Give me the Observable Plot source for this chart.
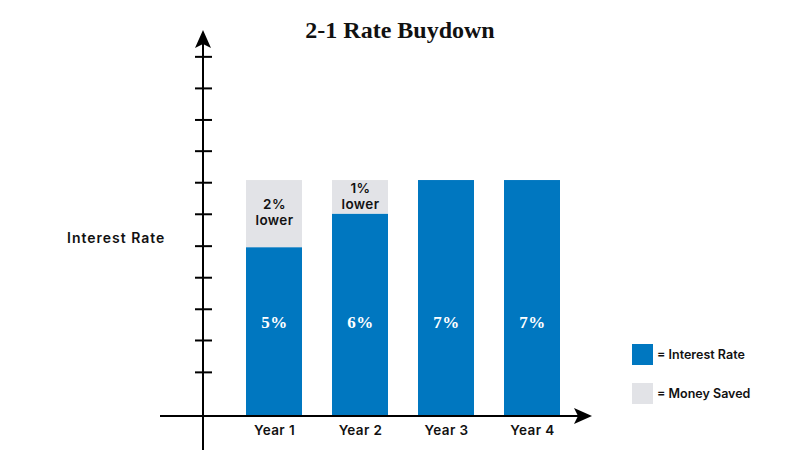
<!DOCTYPE html>
<html>
<head>
<meta charset="utf-8">
<script src="https://cdn.jsdelivr.net/npm/d3@7"></script>
<script src="https://cdn.jsdelivr.net/npm/@observablehq/plot@0.6"></script>
<style>
  html, body { margin: 0; padding: 0; background: #fff; }
  #wrap { position: relative; width: 800px; height: 450px; overflow: hidden; font-family: Inter, "Open Sans", sans-serif; }
  #title { position: absolute; left: 0; width: 800px; top: 17px; text-align: center;
           font-family: "Liberation Serif", "DejaVu Serif", serif; font-weight: bold; font-size: 24px; color: #111; }
  #ylabel { position: absolute; left: 67px; top: 229px; font-weight: 600; font-size: 14px; letter-spacing: 1px; color: #111; }
  .leg { position: absolute; left: 632px; display: flex; align-items: center; font-weight: 600; font-size: 12.5px; letter-spacing: 0px; color: #111; }
  .leg span.sw { display: inline-block; width: 21px; height: 21px; margin-right: 4px; }
  #chart svg text { letter-spacing: 0.4px; }
</style>
</head>
<body>
<div id="wrap">
  <div id="chart"></div>
  <div id="title">2-1 Rate Buydown</div>
  <div id="ylabel">Interest Rate</div>
  <div id="legend"></div>
</div>
<script>
// ---- data ----
const years = ["Year 1", "Year 2", "Year 3", "Year 4"];
const rates = [5, 6, 7, 7];          // interest rate (%)
const saved = [2, 1, 0, 0];          // buydown (money saved, % points)
const savedTop = ["2%", "1%", "", ""];
const savedBottom = ["lower", "lower", "", ""];
const yTickValues = [1.27, 2.22, 3.15, 4.09, 5.03, 5.98, 6.92, 7.86, 8.79, 9.73, 10.67];
const legendItems = ["= Interest Rate", "= Money Saved"];

const blue = "#0077c0";
const grey = "#e2e3e7";
const legendColors = [blue, grey];

const data = years.map((year, i) => ({year, rate: rates[i], saved: saved[i], top: savedTop[i], bottom: savedBottom[i]}));

// ---- layout ----
const W = 800, H = 450;
const axisX = 203;          // pixel x of vertical axis
const axisLeft = 160, axisRight = 592;

function axes(index, scales, values, dims) {
  const y0 = scales.y(0) + 1;
  const g = d3.create("svg:g");
  // horizontal axis
  g.append("line").attr("x1", axisLeft).attr("x2", axisRight - 10).attr("y1", y0).attr("y2", y0)
    .attr("stroke", "#000").attr("stroke-width", 2);
  g.append("path").attr("d", `M${axisRight},${y0} L${axisRight - 18},${y0 - 8} L${axisRight - 14},${y0} L${axisRight - 18},${y0 + 8} Z`)
    .attr("fill", "#000");
  // vertical axis
  const tipY = dims.marginTop;
  g.append("line").attr("x1", axisX).attr("x2", axisX).attr("y1", H).attr("y2", tipY + 10)
    .attr("stroke", "#000").attr("stroke-width", 2);
  g.append("path").attr("d", `M${axisX},${tipY} L${axisX - 8},${tipY + 18} L${axisX},${tipY + 14} L${axisX + 8},${tipY + 18} Z`)
    .attr("fill", "#000");
  // tick marks
  for (const t of yTickValues) {
    const yy = scales.y(t);
    g.append("line").attr("x1", axisX - 8).attr("x2", axisX + 9).attr("y1", yy).attr("y2", yy)
      .attr("stroke", "#000").attr("stroke-width", 2);
  }
  return g.node();
}

const sansText = {fill: "#111", fontSize: 13.5, fontWeight: 600, fontFamily: "Inter"};
const savedData = data.filter(d => d.saved > 0);

const chart = Plot.plot({
  width: W,
  height: H,
  marginTop: 30,
  marginBottom: 35,
  marginLeft: 229.6,
  marginRight: 223.4,
  x: {type: "band", domain: years, paddingInner: 0.354, paddingOuter: 0.177, axis: null},
  y: {domain: [0, 11.47], axis: null},
  style: {background: "transparent", overflow: "visible"},
  marks: [
    Plot.barY(data, {x: "year", y1: 0, y2: "rate", fill: blue}),
    Plot.barY(data, {x: "year", y1: "rate", y2: d => d.rate + d.saved, fill: grey}),
    axes,
    Plot.text(data, {x: "year", text: d => d.rate + "%", frameAnchor: "bottom", dy: -88,
      fill: "white", fontSize: 17, fontWeight: "bold", fontFamily: "Liberation Serif"}),
    Plot.text(savedData, {x: "year", y: d => d.rate + d.saved / 2, text: "top", dy: -9, ...sansText}),
    Plot.text(savedData, {x: "year", y: d => d.rate + d.saved / 2, text: "bottom", dy: 7, ...sansText}),
    Plot.text(data, {x: "year", text: "year", frameAnchor: "bottom", dy: 19, ...sansText})
  ]
});
document.getElementById("chart").appendChild(chart);

// legend
const legend = document.getElementById("legend");
legendItems.forEach((t, i) => {
  const d = document.createElement("div");
  d.className = "leg";
  d.style.top = (344 + i * 39) + "px";
  d.innerHTML = `<span class="sw" style="background:${legendColors[i]}"></span>${t}`;
  legend.appendChild(d);
});
</script>
</body>
</html>
